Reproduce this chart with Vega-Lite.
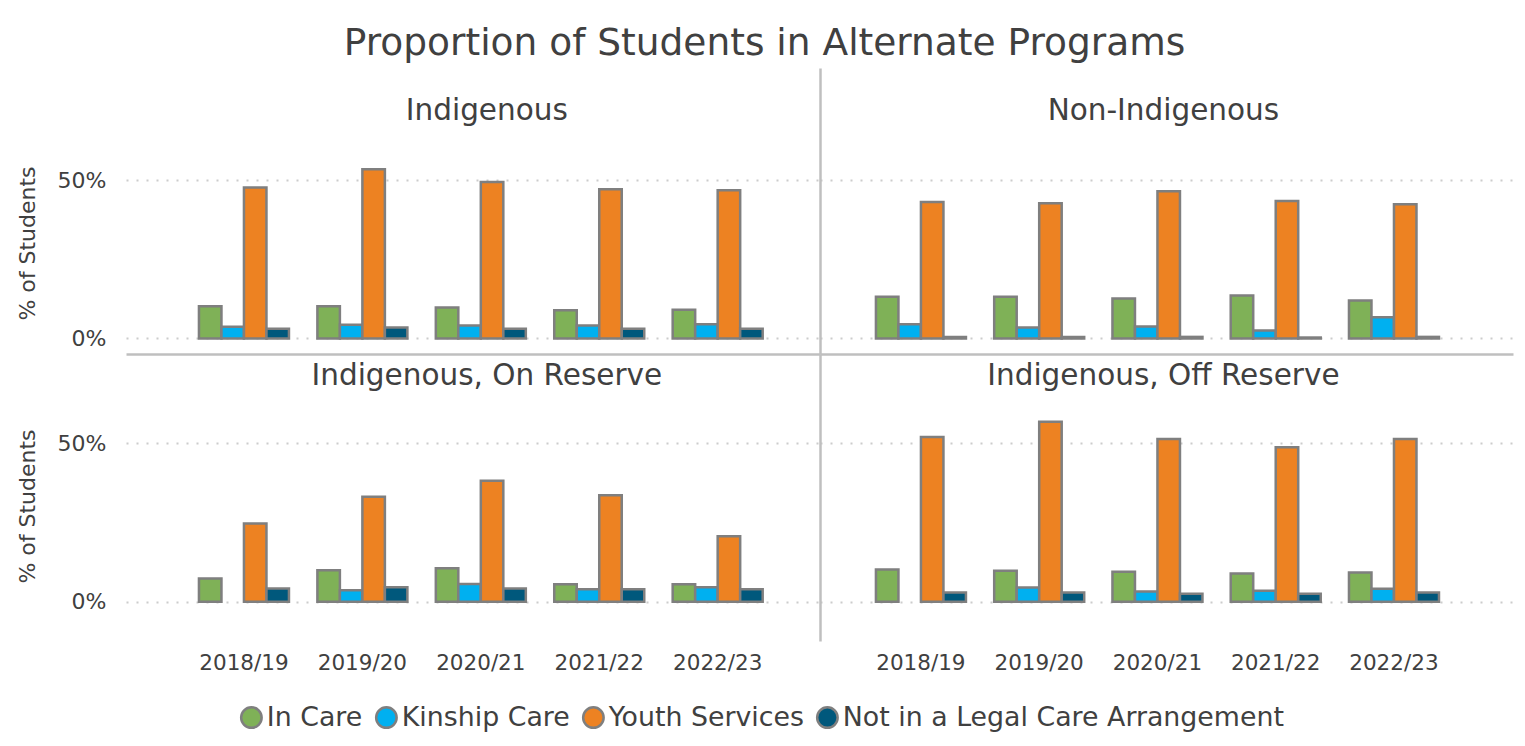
{
  "$schema": "https://vega.github.io/schema/vega-lite/v6.json",
  "background": "white",
  "padding": {"left": 16, "top": 24, "right": 5, "bottom": 5},
  "title": {"text": "Proportion of Students in Alternate Programs", "font": "DejaVu Sans", "fontSize": 37.5, "fontWeight": "normal", "color": "#404040", "anchor": "middle", "offset": 6},
  "config": {"view": {"stroke": null}, "font": "DejaVu Sans"},
  "data": {"values": [
    {"panel": "Indigenous", "year": "2018/19", "status": "In Care", "pct": 10.2},
    {"panel": "Indigenous", "year": "2018/19", "status": "Kinship Care", "pct": 3.7},
    {"panel": "Indigenous", "year": "2018/19", "status": "Youth Services", "pct": 47.7},
    {"panel": "Indigenous", "year": "2018/19", "status": "Not in a Legal Care Arrangement", "pct": 3.1},
    {"panel": "Indigenous", "year": "2019/20", "status": "In Care", "pct": 10.2},
    {"panel": "Indigenous", "year": "2019/20", "status": "Kinship Care", "pct": 4.3},
    {"panel": "Indigenous", "year": "2019/20", "status": "Youth Services", "pct": 53.4},
    {"panel": "Indigenous", "year": "2019/20", "status": "Not in a Legal Care Arrangement", "pct": 3.5},
    {"panel": "Indigenous", "year": "2020/21", "status": "In Care", "pct": 9.8},
    {"panel": "Indigenous", "year": "2020/21", "status": "Kinship Care", "pct": 4.1},
    {"panel": "Indigenous", "year": "2020/21", "status": "Youth Services", "pct": 49.4},
    {"panel": "Indigenous", "year": "2020/21", "status": "Not in a Legal Care Arrangement", "pct": 3.1},
    {"panel": "Indigenous", "year": "2021/22", "status": "In Care", "pct": 8.9},
    {"panel": "Indigenous", "year": "2021/22", "status": "Kinship Care", "pct": 4.1},
    {"panel": "Indigenous", "year": "2021/22", "status": "Youth Services", "pct": 47.1},
    {"panel": "Indigenous", "year": "2021/22", "status": "Not in a Legal Care Arrangement", "pct": 3.1},
    {"panel": "Indigenous", "year": "2022/23", "status": "In Care", "pct": 9.1},
    {"panel": "Indigenous", "year": "2022/23", "status": "Kinship Care", "pct": 4.5},
    {"panel": "Indigenous", "year": "2022/23", "status": "Youth Services", "pct": 46.8},
    {"panel": "Indigenous", "year": "2022/23", "status": "Not in a Legal Care Arrangement", "pct": 3.1},
    {"panel": "Non-Indigenous", "year": "2018/19", "status": "In Care", "pct": 13.2},
    {"panel": "Non-Indigenous", "year": "2018/19", "status": "Kinship Care", "pct": 4.5},
    {"panel": "Non-Indigenous", "year": "2018/19", "status": "Youth Services", "pct": 43.1},
    {"panel": "Non-Indigenous", "year": "2018/19", "status": "Not in a Legal Care Arrangement", "pct": 0.5},
    {"panel": "Non-Indigenous", "year": "2019/20", "status": "In Care", "pct": 13.2},
    {"panel": "Non-Indigenous", "year": "2019/20", "status": "Kinship Care", "pct": 3.5},
    {"panel": "Non-Indigenous", "year": "2019/20", "status": "Youth Services", "pct": 42.7},
    {"panel": "Non-Indigenous", "year": "2019/20", "status": "Not in a Legal Care Arrangement", "pct": 0.5},
    {"panel": "Non-Indigenous", "year": "2020/21", "status": "In Care", "pct": 12.6},
    {"panel": "Non-Indigenous", "year": "2020/21", "status": "Kinship Care", "pct": 3.8},
    {"panel": "Non-Indigenous", "year": "2020/21", "status": "Youth Services", "pct": 46.5},
    {"panel": "Non-Indigenous", "year": "2020/21", "status": "Not in a Legal Care Arrangement", "pct": 0.5},
    {"panel": "Non-Indigenous", "year": "2021/22", "status": "In Care", "pct": 13.6},
    {"panel": "Non-Indigenous", "year": "2021/22", "status": "Kinship Care", "pct": 2.5},
    {"panel": "Non-Indigenous", "year": "2021/22", "status": "Youth Services", "pct": 43.4},
    {"panel": "Non-Indigenous", "year": "2021/22", "status": "Not in a Legal Care Arrangement", "pct": 0.3},
    {"panel": "Non-Indigenous", "year": "2022/23", "status": "In Care", "pct": 12.0},
    {"panel": "Non-Indigenous", "year": "2022/23", "status": "Kinship Care", "pct": 6.7},
    {"panel": "Non-Indigenous", "year": "2022/23", "status": "Youth Services", "pct": 42.4},
    {"panel": "Non-Indigenous", "year": "2022/23", "status": "Not in a Legal Care Arrangement", "pct": 0.5},
    {"panel": "Indigenous, On Reserve", "year": "2018/19", "status": "In Care", "pct": 7.3},
    {"panel": "Indigenous, On Reserve", "year": "2018/19", "status": "Youth Services", "pct": 24.7},
    {"panel": "Indigenous, On Reserve", "year": "2018/19", "status": "Not in a Legal Care Arrangement", "pct": 4.2},
    {"panel": "Indigenous, On Reserve", "year": "2019/20", "status": "In Care", "pct": 9.9},
    {"panel": "Indigenous, On Reserve", "year": "2019/20", "status": "Kinship Care", "pct": 3.6},
    {"panel": "Indigenous, On Reserve", "year": "2019/20", "status": "Youth Services", "pct": 33.1},
    {"panel": "Indigenous, On Reserve", "year": "2019/20", "status": "Not in a Legal Care Arrangement", "pct": 4.6},
    {"panel": "Indigenous, On Reserve", "year": "2020/21", "status": "In Care", "pct": 10.6},
    {"panel": "Indigenous, On Reserve", "year": "2020/21", "status": "Kinship Care", "pct": 5.6},
    {"panel": "Indigenous, On Reserve", "year": "2020/21", "status": "Youth Services", "pct": 38.2},
    {"panel": "Indigenous, On Reserve", "year": "2020/21", "status": "Not in a Legal Care Arrangement", "pct": 4.2},
    {"panel": "Indigenous, On Reserve", "year": "2021/22", "status": "In Care", "pct": 5.5},
    {"panel": "Indigenous, On Reserve", "year": "2021/22", "status": "Kinship Care", "pct": 3.9},
    {"panel": "Indigenous, On Reserve", "year": "2021/22", "status": "Youth Services", "pct": 33.6},
    {"panel": "Indigenous, On Reserve", "year": "2021/22", "status": "Not in a Legal Care Arrangement", "pct": 3.9},
    {"panel": "Indigenous, On Reserve", "year": "2022/23", "status": "In Care", "pct": 5.5},
    {"panel": "Indigenous, On Reserve", "year": "2022/23", "status": "Kinship Care", "pct": 4.6},
    {"panel": "Indigenous, On Reserve", "year": "2022/23", "status": "Youth Services", "pct": 20.7},
    {"panel": "Indigenous, On Reserve", "year": "2022/23", "status": "Not in a Legal Care Arrangement", "pct": 3.9},
    {"panel": "Indigenous, Off Reserve", "year": "2018/19", "status": "In Care", "pct": 10.2},
    {"panel": "Indigenous, Off Reserve", "year": "2018/19", "status": "Youth Services", "pct": 52.0},
    {"panel": "Indigenous, Off Reserve", "year": "2018/19", "status": "Not in a Legal Care Arrangement", "pct": 2.9},
    {"panel": "Indigenous, Off Reserve", "year": "2019/20", "status": "In Care", "pct": 9.8},
    {"panel": "Indigenous, Off Reserve", "year": "2019/20", "status": "Kinship Care", "pct": 4.5},
    {"panel": "Indigenous, Off Reserve", "year": "2019/20", "status": "Youth Services", "pct": 56.8},
    {"panel": "Indigenous, Off Reserve", "year": "2019/20", "status": "Not in a Legal Care Arrangement", "pct": 2.9},
    {"panel": "Indigenous, Off Reserve", "year": "2020/21", "status": "In Care", "pct": 9.5},
    {"panel": "Indigenous, Off Reserve", "year": "2020/21", "status": "Kinship Care", "pct": 3.2},
    {"panel": "Indigenous, Off Reserve", "year": "2020/21", "status": "Youth Services", "pct": 51.4},
    {"panel": "Indigenous, Off Reserve", "year": "2020/21", "status": "Not in a Legal Care Arrangement", "pct": 2.5},
    {"panel": "Indigenous, Off Reserve", "year": "2021/22", "status": "In Care", "pct": 8.9},
    {"panel": "Indigenous, Off Reserve", "year": "2021/22", "status": "Kinship Care", "pct": 3.5},
    {"panel": "Indigenous, Off Reserve", "year": "2021/22", "status": "Youth Services", "pct": 48.8},
    {"panel": "Indigenous, Off Reserve", "year": "2021/22", "status": "Not in a Legal Care Arrangement", "pct": 2.5},
    {"panel": "Indigenous, Off Reserve", "year": "2022/23", "status": "In Care", "pct": 9.2},
    {"panel": "Indigenous, Off Reserve", "year": "2022/23", "status": "Kinship Care", "pct": 4.1},
    {"panel": "Indigenous, Off Reserve", "year": "2022/23", "status": "Youth Services", "pct": 51.4},
    {"panel": "Indigenous, Off Reserve", "year": "2022/23", "status": "Not in a Legal Care Arrangement", "pct": 2.9}
  ]},
  "bounds": "flush",
  "spacing": 0,
  "columns": 2,
  "concat": [
    {
      "width": 694, "height": 286,
      "layer": [
        {
          "transform": [{"filter": "datum.panel === 'Indigenous'"}],
          "mark": {"type": "bar", "stroke": "#7f7f7f", "strokeWidth": 2.5},
          "encoding": {
            "x": {"field": "year", "type": "nominal", "scale": {"domain": ["2018/19", "2019/20", "2020/21", "2021/22", "2022/23"], "paddingInner": 0.24, "paddingOuter": 0.55, "align": 0.56},
                  "axis": {"labels": false, "ticks": false, "domain": true, "domainColor": "#bfbfbf", "domainWidth": 2.5, "title": null, "grid": false}},
            "xOffset": {"field": "status", "scale": {"domain": ["In Care", "Kinship Care", "Youth Services", "Not in a Legal Care Arrangement"]}},
            "y": {"field": "pct", "type": "quantitative", "stack": null, "scale": {"domain": [-4.9, 85.4], "nice": false, "zero": false},
                  "axis": {"values": [0, 50], "labelExpr": "datum.value + '%'", "title": "% of Students", "titleY": 175, "titleFontSize": 22, "titleFontWeight": "normal", "titleColor": "#404040", "titlePadding": 18, "labelFontSize": 22, "labelColor": "#404040", "labelPadding": 20, "domain": false, "ticks": false, "grid": true, "gridDash": [2, 8], "gridColor": "#cccccc", "gridWidth": 2}},
            "color": {"field": "status", "type": "nominal", "scale": {"domain": ["In Care", "Kinship Care", "Youth Services", "Not in a Legal Care Arrangement"], "range": ["#7fb157", "#00b0f0", "#ed8222", "#00587c"]},
                      "legend": {"orient": "none", "legendX": 112, "legendY": 636, "direction": "horizontal", "title": null, "symbolType": "circle", "symbolSize": 420, "symbolStrokeColor": "#7f7f7f", "symbolStrokeWidth": 2.5, "labelFontSize": 26.8, "labelColor": "#404040", "labelOffset": 2, "labelLimit": 0, "columnPadding": 8}}
          }
        },
        {
          "data": {"values": [{"label": "Indigenous"}]},
          "mark": {"type": "text", "fontSize": 29.5, "color": "#404040", "baseline": "middle", "align": "center", "dx": 6},
          "encoding": {"x": {"datum": "2020/21"}, "y": {"datum": 71.8}, "text": {"field": "label"}}
        }
      ]
    },
    {
      "width": 693, "height": 286,
      "layer": [
        {
          "transform": [{"filter": "datum.panel === 'Non-Indigenous'"}],
          "mark": {"type": "bar", "stroke": "#7f7f7f", "strokeWidth": 2.5},
          "encoding": {
            "x": {"field": "year", "type": "nominal", "scale": {"domain": ["2018/19", "2019/20", "2020/21", "2021/22", "2022/23"], "paddingInner": 0.24, "paddingOuter": 0.55, "align": 0.43},
                  "axis": {"labels": false, "ticks": false, "domain": true, "domainColor": "#bfbfbf", "domainWidth": 2.5, "title": null, "grid": false}},
            "xOffset": {"field": "status", "scale": {"domain": ["In Care", "Kinship Care", "Youth Services", "Not in a Legal Care Arrangement"]}},
            "y": {"field": "pct", "type": "quantitative", "stack": null, "scale": {"domain": [-4.9, 85.4], "nice": false, "zero": false},
                  "axis": {"values": [0, 50], "labels": false, "title": null, "domain": true, "domainColor": "#bfbfbf", "domainWidth": 2.5, "ticks": false, "grid": true, "gridDash": [2, 8], "gridColor": "#cccccc", "gridWidth": 2}},
            "color": {"field": "status", "type": "nominal"}
          }
        },
        {
          "data": {"values": [{"label": "Non-Indigenous"}]},
          "mark": {"type": "text", "fontSize": 29.5, "color": "#404040", "baseline": "middle", "align": "center", "dx": 6},
          "encoding": {"x": {"datum": "2020/21"}, "y": {"datum": 71.8}, "text": {"field": "label"}}
        }
      ]
    },
    {
      "width": 694, "height": 287,
      "layer": [
        {
          "transform": [{"filter": "datum.panel === 'Indigenous, On Reserve'"}],
          "mark": {"type": "bar", "stroke": "#7f7f7f", "strokeWidth": 2.5},
          "encoding": {
            "x": {"field": "year", "type": "nominal", "scale": {"domain": ["2018/19", "2019/20", "2020/21", "2021/22", "2022/23"], "paddingInner": 0.24, "paddingOuter": 0.55, "align": 0.56},
                  "axis": {"labels": true, "labelAngle": 0, "labelFontSize": 21.5, "labelColor": "#404040", "labelPadding": 11, "ticks": false, "domain": false, "title": null, "grid": false}},
            "xOffset": {"field": "status", "scale": {"domain": ["In Care", "Kinship Care", "Youth Services", "Not in a Legal Care Arrangement"]}},
            "y": {"field": "pct", "type": "quantitative", "stack": null, "scale": {"domain": [-12.4, 78.2], "nice": false, "zero": false},
                  "axis": {"values": [0, 50], "labelExpr": "datum.value + '%'", "title": "% of Students", "titleY": 152, "titleFontSize": 22, "titleFontWeight": "normal", "titleColor": "#404040", "titlePadding": 18, "labelFontSize": 22, "labelColor": "#404040", "labelPadding": 20, "domain": false, "ticks": false, "grid": true, "gridDash": [2, 8], "gridColor": "#cccccc", "gridWidth": 2}},
            "color": {"field": "status", "type": "nominal"}
          }
        },
        {
          "data": {"values": [{"label": "Indigenous, On Reserve"}]},
          "mark": {"type": "text", "fontSize": 29.5, "color": "#404040", "baseline": "middle", "align": "center", "dx": 6},
          "encoding": {"x": {"datum": "2020/21"}, "y": {"datum": 71.4}, "text": {"field": "label"}}
        }
      ]
    },
    {
      "width": 693, "height": 287,
      "layer": [
        {
          "transform": [{"filter": "datum.panel === 'Indigenous, Off Reserve'"}],
          "mark": {"type": "bar", "stroke": "#7f7f7f", "strokeWidth": 2.5},
          "encoding": {
            "x": {"field": "year", "type": "nominal", "scale": {"domain": ["2018/19", "2019/20", "2020/21", "2021/22", "2022/23"], "paddingInner": 0.24, "paddingOuter": 0.55, "align": 0.43},
                  "axis": {"labels": true, "labelAngle": 0, "labelFontSize": 21.5, "labelColor": "#404040", "labelPadding": 11, "ticks": false, "domain": false, "title": null, "grid": false}},
            "xOffset": {"field": "status", "scale": {"domain": ["In Care", "Kinship Care", "Youth Services", "Not in a Legal Care Arrangement"]}},
            "y": {"field": "pct", "type": "quantitative", "stack": null, "scale": {"domain": [-12.4, 78.2], "nice": false, "zero": false},
                  "axis": {"values": [0, 50], "labels": false, "title": null, "domain": true, "domainColor": "#bfbfbf", "domainWidth": 2.5, "ticks": false, "grid": true, "gridDash": [2, 8], "gridColor": "#cccccc", "gridWidth": 2}},
            "color": {"field": "status", "type": "nominal"}
          }
        },
        {
          "data": {"values": [{"label": "Indigenous, Off Reserve"}]},
          "mark": {"type": "text", "fontSize": 29.5, "color": "#404040", "baseline": "middle", "align": "center", "dx": 6},
          "encoding": {"x": {"datum": "2020/21"}, "y": {"datum": 71.4}, "text": {"field": "label"}}
        }
      ]
    }
  ]
}
